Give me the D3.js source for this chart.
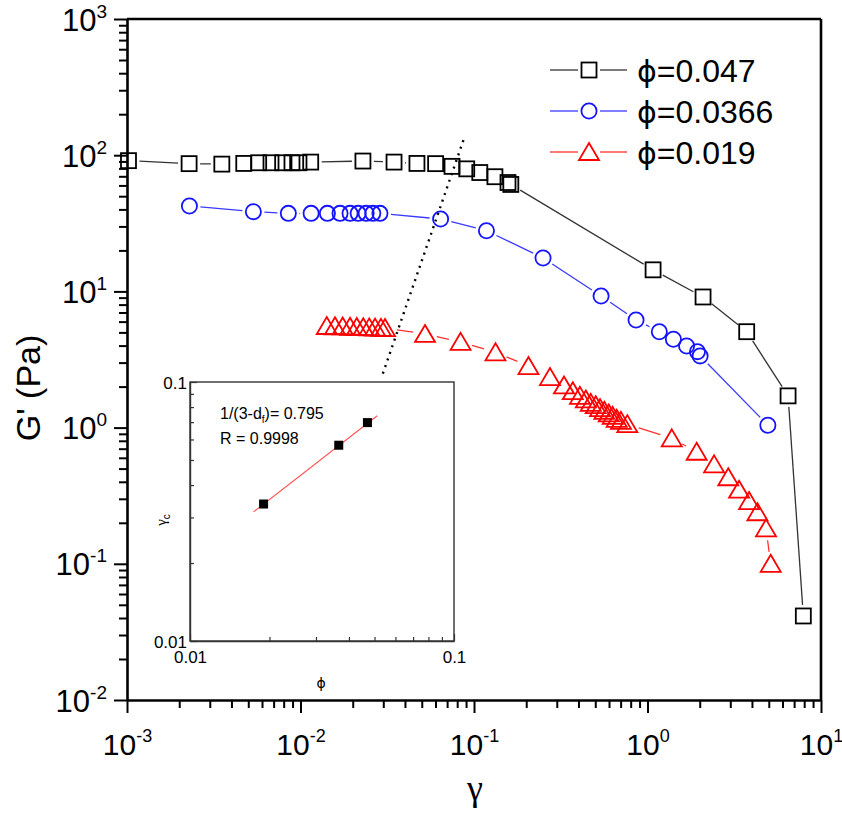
<!DOCTYPE html>
<meta charset="utf-8">
<style>
  body { margin: 0; background: #fff; }
  text { font-family: "Liberation Sans", Arial, sans-serif; fill: #000; }
</style>
<svg width="842" height="821"></svg>
<script src="https://d3js.org/d3.v7.min.js"></script>
<script>
// ---- data ----
var blackX = [0.00102, 0.00228, 0.00352, 0.00471, 0.00574, 0.00676, 0.00789, 0.00893, 0.0098, 0.01145,
              0.0229, 0.0346, 0.0469, 0.0601, 0.0747, 0.0908, 0.108, 0.132, 0.157, 0.163,
              1.077, 2.09, 3.73, 6.46, 7.91]
var blackY = [91.2, 86.7, 86, 87, 88, 88, 88, 88, 88, 89,
              90.6, 89, 87, 86.7, 82.8, 79.4, 74.6, 69.5, 63, 61,
              14.4, 9.1, 5.06, 1.71, 0.0414]

var blueX = [0.00229, 0.00535, 0.00851, 0.01151, 0.01429, 0.0169, 0.0193, 0.0215, 0.0239, 0.0261, 0.0287,
             0.0642, 0.118, 0.250, 0.540, 0.859, 1.17, 1.41, 1.68, 1.94, 2.01, 4.94]
var blueY = [42.4, 38.5, 37.4, 37.4, 37.4, 37.4, 37.4, 37.4, 37.4, 37.4, 37.4,
             34.0, 27.9, 17.6, 9.25, 6.17, 5.06, 4.45, 3.97, 3.61, 3.36, 1.04]

var redX = [0.01417, 0.0158, 0.0175, 0.0193, 0.0211, 0.0230, 0.0249, 0.0269, 0.0291, 0.0307,
            0.0522, 0.0837, 0.133, 0.206, 0.274, 0.330, 0.371, 0.408, 0.441, 0.471, 0.503, 0.533,
            0.564, 0.598, 0.630, 0.664, 0.703, 0.765, 1.38, 1.92, 2.42, 2.92, 3.37, 3.85, 4.30, 4.82, 5.13]
var redY = [5.57, 5.55, 5.53, 5.5, 5.48, 5.46, 5.44, 5.42, 5.4, 5.38,
            4.87, 4.26, 3.57, 2.83, 2.35, 2.04, 1.85, 1.71, 1.61, 1.52, 1.46, 1.39,
            1.33, 1.27, 1.22, 1.16, 1.12, 1.06, 0.834, 0.665, 0.537, 0.432, 0.350, 0.289, 0.239, 0.182, 0.100]

var guideX = [0.0869, 0.0295]   // dotted line, critical strain
var guideY = [129, 2.39]

var legendLabels = ['=0.047', '=0.0366', '=0.019']

// inset: gamma_c vs phi
var insetPhi = [0.019, 0.0366, 0.047]
var insetGc = [0.0338, 0.0570, 0.0697]
var fitX = [0.0174, 0.0512]
var fitY = [0.0315, 0.0741]
var insetText = ['1/(3-d', 'f', ')= 0.795', 'R = 0.9998']

var svg = d3.select('svg')

var x = d3.scaleLog().domain([1e-3, 10]).range([127, 821])
var y = d3.scaleLog().domain([1e-2, 1e3]).range([700, 19])

function isMajor(v) { var l = Math.log10(v); return Math.abs(l - Math.round(l)) < 1e-6 }

// ---- main axes ----
var xAxis = svg.append('g').attr('transform', 'translate(0,' + y(1e-2) + ')')
    .call(d3.axisBottom(x).tickFormat('').tickSizeOuter(0))
xAxis.selectAll('.tick line').attr('y2', d => isMajor(d) ? 13 : 8).attr('stroke-width', 2)
xAxis.select('.domain').attr('stroke-width', 2.6)
xAxis.selectAll('.tick').filter(isMajor).append('text')
    .attr('y', 55).attr('text-anchor', 'middle').attr('font-size', 30)
    .each(function (d) {
        var t = d3.select(this)
        t.append('tspan').text('10')
        t.append('tspan').attr('dy', -13).attr('font-size', 18).text(Math.round(Math.log10(d)))
    })

var yAxis = svg.append('g').attr('transform', 'translate(' + x(1e-3) + ',0)')
    .call(d3.axisLeft(y).tickFormat('').tickSizeOuter(0))
yAxis.selectAll('.tick line').attr('x2', d => isMajor(d) ? -13 : -8).attr('stroke-width', 2)
yAxis.select('.domain').attr('stroke-width', 2.6)
yAxis.selectAll('.tick').filter(isMajor).append('text')
    .attr('x', -20).attr('y', 11).attr('text-anchor', 'end').attr('font-size', 31)
    .each(function (d) {
        var t = d3.select(this)
        t.append('tspan').text('10')
        t.append('tspan').attr('dy', -13).attr('font-size', 19).text(Math.round(Math.log10(d)))
    })

// frame top / right
svg.append('line').attr('x1', x(1e-3)).attr('x2', x(10)).attr('y1', y(1e3)).attr('y2', y(1e3))
    .attr('stroke', '#000').attr('stroke-width', 2.6)
svg.append('line').attr('x1', x(10)).attr('x2', x(10)).attr('y1', y(1e3)).attr('y2', y(1e-2))
    .attr('stroke', '#000').attr('stroke-width', 2.6)

// axis titles
svg.append('text').attr('transform', 'translate(40,388) rotate(-90)')
    .attr('text-anchor', 'middle').attr('font-size', 34).text("G' (Pa)")
svg.append('text').attr('x', 475).attr('y', 800).attr('text-anchor', 'middle')
    .attr('font-size', 36).style('font-family', '"Liberation Serif", serif').text('γ')

// ---- dotted guide ----
svg.append('path')
    .attr('d', d3.line()(guideX.map((v, i) => [x(v), y(guideY[i])])))
    .attr('stroke', '#000').attr('stroke-width', 2.4).attr('stroke-dasharray', '2,5')
    .attr('fill', 'none')

// ---- series ----
var series = [
    { xs: blackX, ys: blackY, color: '#000', line: '#333', shape: 'square', gap: 11 },
    { xs: blueX, ys: blueY, color: '#1414ff', line: '#3a3aff', shape: 'circle', gap: 11 },
    { xs: redX, ys: redY, color: '#ff0000', line: '#ff3030', shape: 'triangle', gap: 12 }
]

function marker(g, shape, color, cx, cy) {
    if (shape === 'square') {
        g.append('rect').attr('x', cx - 7.5).attr('y', cy - 7.5).attr('width', 15).attr('height', 15)
            .attr('fill', 'none').attr('stroke', color).attr('stroke-width', 1.8)
    } else if (shape === 'circle') {
        g.append('circle').attr('cx', cx).attr('cy', cy).attr('r', 7.6)
            .attr('fill', 'none').attr('stroke', color).attr('stroke-width', 1.8)
    } else {
        g.append('path').attr('d', 'M' + cx + ',' + (cy - 9) + 'L' + (cx + 10) + ',' + (cy + 8) +
            'L' + (cx - 10) + ',' + (cy + 8) + 'Z')
            .attr('fill', 'none').attr('stroke', color).attr('stroke-width', 1.8)
    }
}

series.forEach(function (s) {
    var g = svg.append('g')
    var pts = s.xs.map((v, i) => [x(v), y(s.ys[i])])
    for (var i = 0; i < pts.length - 1; i++) {
        var a = pts[i], b = pts[i + 1]
        var dx = b[0] - a[0], dy = b[1] - a[1], d = Math.sqrt(dx * dx + dy * dy)
        if (d <= 2 * s.gap) continue
        var ux = dx / d, uy = dy / d
        g.append('line')
            .attr('x1', a[0] + ux * s.gap).attr('y1', a[1] + uy * s.gap)
            .attr('x2', b[0] - ux * s.gap).attr('y2', b[1] - uy * s.gap)
            .attr('stroke', s.line).attr('stroke-width', 1.3)
    }
    pts.forEach(p => marker(g, s.shape, s.color, p[0], p[1]))
})

// ---- legend ----
var legendY = [70, 111, 152]
series.forEach(function (s, i) {
    var g = svg.append('g')
    var ly = legendY[i]
    g.append('line').attr('x1', 550).attr('x2', 578).attr('y1', ly).attr('y2', ly)
        .attr('stroke', s.line).attr('stroke-width', 1.3)
    g.append('line').attr('x1', 600).attr('x2', 627).attr('y1', ly).attr('y2', ly)
        .attr('stroke', s.line).attr('stroke-width', 1.3)
    marker(g, s.shape, s.color, 589, ly)
    var t = g.append('text').attr('x', 637).attr('y', ly + 12).attr('font-size', 32)
    t.append('tspan').style('font-family', '"DejaVu Sans", sans-serif').attr('font-size', 30).text('ϕ')
    t.append('tspan').text(legendLabels[i])
})

// ---- inset ----
var ix = d3.scaleLog().domain([0.01, 0.1]).range([190, 454])
var iy = d3.scaleLog().domain([0.01, 0.1]).range([641, 382])
var inset = svg.append('g')
inset.append('rect').attr('x', 190).attr('y', 382).attr('width', 264).attr('height', 259)
    .attr('fill', '#fff').attr('stroke', '#333').attr('stroke-width', 1.4)

var ixAxis = inset.append('g').attr('transform', 'translate(0,' + iy(0.01) + ')')
    .call(d3.axisBottom(ix).tickFormat('').tickSizeOuter(0))
ixAxis.selectAll('.tick line').attr('y2', d => isMajor(d) ? -7 : -4).attr('stroke', '#333').attr('stroke-width', 1.2)
ixAxis.select('.domain').attr('stroke', '#333').attr('stroke-width', 1.4)
ixAxis.selectAll('.tick').filter(isMajor).append('text')
    .attr('y', 22).attr('text-anchor', 'middle').attr('font-size', 17)
    .text(d => d === 0.01 ? '0.01' : '0.1')

var iyAxis = inset.append('g').attr('transform', 'translate(' + ix(0.01) + ',0)')
    .call(d3.axisLeft(iy).tickFormat('').tickSizeOuter(0))
iyAxis.selectAll('.tick line').attr('x2', d => isMajor(d) ? 7 : 4).attr('stroke', '#333').attr('stroke-width', 1.2)
iyAxis.select('.domain').attr('stroke', '#333').attr('stroke-width', 1.4)
iyAxis.selectAll('.tick').filter(isMajor).append('text')
    .attr('x', -3).attr('y', 6).attr('text-anchor', 'end').attr('font-size', 17)
    .text(d => d === 0.01 ? '0.01' : '0.1')

inset.append('text').attr('x', 321).attr('y', 688).attr('text-anchor', 'middle')
    .attr('font-size', 14).style('font-family', '"DejaVu Sans", sans-serif').text('ϕ')
var gc = inset.append('text').attr('transform', 'translate(166,520) rotate(-90)')
    .attr('text-anchor', 'middle').attr('font-size', 15)
gc.append('tspan').style('font-family', '"Liberation Serif", serif').text('γ')
gc.append('tspan').attr('dy', 4).attr('font-size', 10).text('c')

inset.append('path')
    .attr('d', d3.line()(fitX.map((v, i) => [ix(v), iy(fitY[i])])))
    .attr('stroke', '#ff5050').attr('stroke-width', 1.1).attr('fill', 'none')
inset.selectAll('rect.pt').data(insetPhi).enter().append('rect').attr('class', 'pt')
    .attr('x', (d, i) => ix(d) - 4.5).attr('y', (d, i) => iy(insetGc[i]) - 4.5)
    .attr('width', 9).attr('height', 9).attr('fill', '#000')

var ann = inset.append('text').attr('x', 220).attr('y', 419).attr('font-size', 16)
ann.append('tspan').text(insetText[0])
ann.append('tspan').attr('dy', 4).attr('font-size', 10).text(insetText[1])
ann.append('tspan').attr('dy', -4).text(insetText[2])
inset.append('text').attr('x', 220).attr('y', 444).attr('font-size', 16).text(insetText[3])
</script>
